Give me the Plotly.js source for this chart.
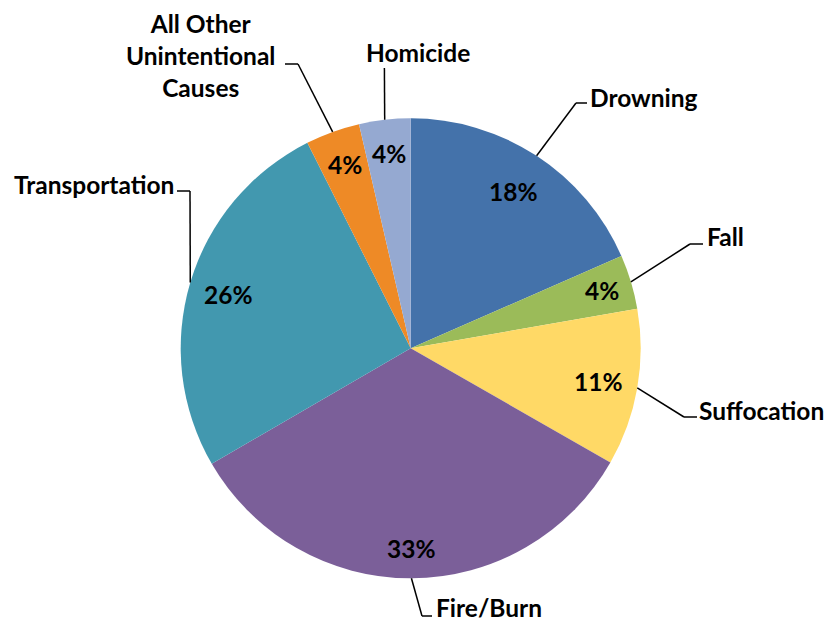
<!DOCTYPE html>
<html><head><meta charset="utf-8">
<script src="https://cdn.plot.ly/plotly-3.0.1.min.js"></script>
<style>html,body{margin:0;padding:0;background:#fff}#chart{width:829px;height:623px}</style>
</head><body><div id="chart"></div>
<script>
// ---- data ----
const categories = ['Drowning', 'Fall', 'Suffocation', 'Fire/Burn', 'Transportation', 'All Other Unintentional Causes', 'Homicide'];
const categoryLabels = ['Drowning', 'Fall', 'Suffocation', 'Fire/Burn', 'Transportation', 'All Other<br>Unintentional<br>Causes', 'Homicide'];
const values = [18.4, 3.8, 11.0, 33.3, 25.9, 3.8, 3.6];

// ---- styles / layout ----
const colors = ['#4472AA', '#9BBB59', '#FFD966', '#7B5F99', '#4298AF', '#EE8A26', '#95A9D1'];
const W = 829, H = 623, CX = 410.7, CY = 348.3, R = 230;
const FONT = {family: 'Lato, "Open Sans", sans-serif', size: 24.5, color: '#000000', weight: 'bold'};
// label placement in px: text anchor, elbow of leader, end of leader, radius factor of % label
const labelPos = [
  {tx: 589, ty: 97, xa: 'left', elbow: [576, 103], end: [587, 103], pr: 0.815},
  {tx: 706, ty: 237, xa: 'left', elbow: [690, 244], end: [703, 244], pr: 0.868},
  {tx: 698, ty: 410, xa: 'left', elbow: [684, 417], end: [697, 417], pr: 0.83},
  {tx: 435, ty: 607, xa: 'left', elbow: [422, 616], end: [432, 616], pr: 0.87},
  {tx: 175, ty: 184, xa: 'right', elbow: [190, 191], end: [177, 191], pr: 0.826},
  {tx: 200, ty: 55, xa: 'center', elbow: [298, 64], end: [285, 64], pr: 0.848},
  {tx: 418, ty: 52, xa: 'center', elbow: [384.4, 68], end: [384.4, 68], pr: 0.852}
];

const px = x => x / W;
const py = y => 1 - y / H;

const total = values.reduce((a, b) => a + b, 0);
let cum = 0;
const annotations = [];
const shapes = [];
values.forEach((v, i) => {
  const mid = (cum + v / 2) / total * 2 * Math.PI;
  cum += v;
  const sx = Math.sin(mid), cy = Math.cos(mid);
  const lp = labelPos[i];
  // percent label
  annotations.push({
    x: px(CX + R * lp.pr * sx), y: py(CY - R * lp.pr * cy), xref: 'paper', yref: 'paper',
    text: Math.round(v / total * 100) + '%', showarrow: false, font: FONT,
    xanchor: 'center', yanchor: 'middle'
  });
  // category label
  annotations.push({
    x: px(lp.tx), y: py(lp.ty), xref: 'paper', yref: 'paper', text: categoryLabels[i],
    showarrow: false, font: FONT, xanchor: lp.xa, yanchor: 'middle', align: 'center', borderpad: 0
  });
  // leader lines
  const rx = CX + R * sx, ry = CY - R * cy;
  shapes.push({type: 'line', xref: 'paper', yref: 'paper', x0: px(rx), y0: py(ry), x1: px(lp.elbow[0]), y1: py(lp.elbow[1]), line: {color: '#000', width: 1.5}});
  if (lp.end[0] !== lp.elbow[0] || lp.end[1] !== lp.elbow[1]) {
    shapes.push({type: 'line', xref: 'paper', yref: 'paper', x0: px(lp.elbow[0]), y0: py(lp.elbow[1]), x1: px(lp.end[0]), y1: py(lp.end[1]), line: {color: '#000', width: 1.5}});
  }
});

const trace = {
  type: 'pie', labels: categories, values: values, sort: false, direction: 'clockwise', rotation: 0,
  marker: {colors: colors, line: {width: 0}}, textinfo: 'none', hoverinfo: 'label+percent',
  domain: {x: [px(CX - R), px(CX + R)], y: [py(CY + R), py(CY - R)]}
};

Plotly.newPlot('chart', [trace], {
  width: W, height: H, margin: {l: 0, r: 0, t: 0, b: 0}, showlegend: false,
  paper_bgcolor: '#ffffff', plot_bgcolor: '#ffffff', annotations: annotations, shapes: shapes
}, {displayModeBar: false, staticPlot: true});
</script></body></html>
